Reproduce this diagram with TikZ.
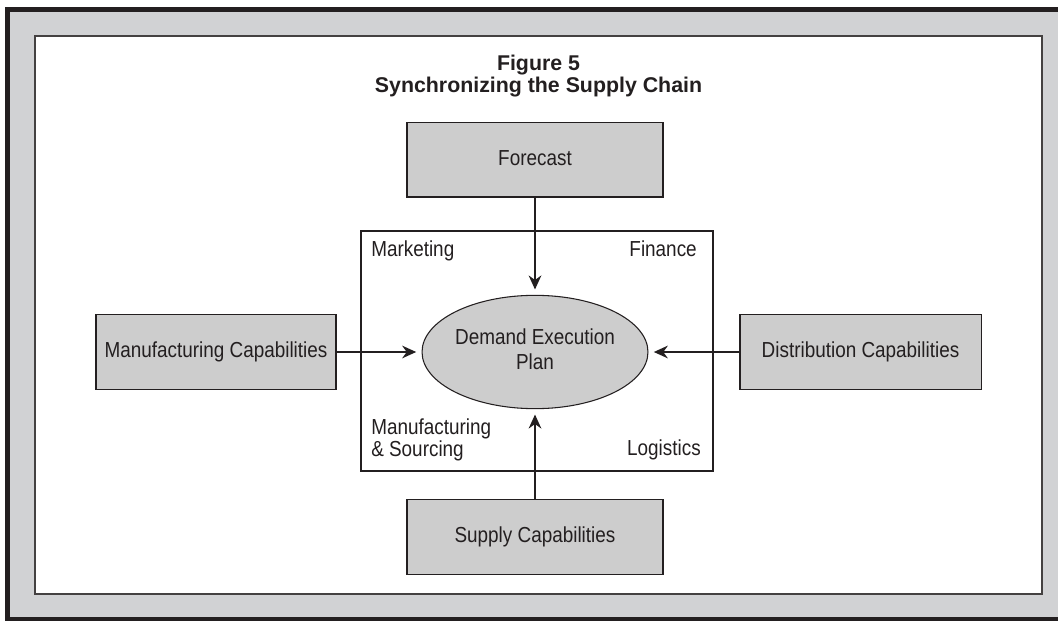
\documentclass[tikz,border=0pt]{standalone}
\usepackage{fontspec}
\setmainfont{Liberation Sans}
\newfontfamily\narrowfont[FakeStretch=0.87]{Liberation Sans}
\usetikzlibrary{arrows.meta, shapes.geometric}
\definecolor{framegray}{HTML}{D1D2D4}
\definecolor{boxgray}{HTML}{CDCDCD}
\definecolor{inkdark}{HTML}{231F20}

\begin{document}
\begin{tikzpicture}[x=0.75pt,y=-0.75pt,
			box/.style = {draw=inkdark,fill=boxgray,line width=1pt,minimum height=56pt,inner sep=0pt,text=inkdark,font=\narrowfont\fontsize{16.3}{19}\selectfont},
			plan/.style = {ellipse,draw=inkdark,fill=boxgray,line width=0.8pt,minimum width=147pt,minimum height=85pt,inner sep=0pt,text=inkdark,font=\narrowfont\fontsize{16.3}{19}\selectfont},
			area/.style = {inner sep=0pt,text=inkdark,font=\narrowfont\fontsize{16.3}{16}\selectfont},
			title/.style = {inner sep=0pt,text=inkdark,font=\bfseries\fontsize{16}{19}\selectfont},
			feed/.style = {-{Stealth[length=10.5pt,width=9.5pt]},line width=1.4pt,draw=inkdark,shorten >=4pt}]
		\useasboundingbox (0,0) rectangle (1058,621);
		\begin{scope}
			\clip (0,0) rectangle (1058,621);
			\draw [fill=framegray,draw=inkdark,line width=3.75pt] (7.5,9.5) rectangle (1075,619.5);
		\end{scope}
		\draw [fill=white,draw=inkdark!85,line width=1.5pt] (35,36) rectangle (1042,594);
		\node [title,anchor=base] (figno) at (538.5,70) {Figure 5};
		\node [title,anchor=base] (caption) at (538.5,92) {Synchronizing the Supply Chain};
		\node [draw=inkdark,line width=0.8pt,minimum width=264pt,minimum height=180pt] (team) at (537,351) {};
		\node [area,anchor=base west] (marketing) at (371,256) {Marketing};
		\node [area,anchor=base east] (finance) at (697,256) {Finance};
		\node [area,anchor=base west,align=left] (sourcing) at (371,456) {Manufacturing\\\& Sourcing};
		\node [area,anchor=base east] (logistics) at (701,455) {Logistics};
		\node [plan] (plan) at (535,352) {\raisebox{-6pt}{\begin{tabular}{@{}c@{}}Demand Execution\\Plan\end{tabular}}};
		\node [box,minimum width=192pt] (forecast) at (535,159.5) {\raisebox{2pt}{Forecast}};
		\node [box,minimum width=180pt] (manufacturing) at (216,352) {Manufacturing Capabilities};
		\node [box,minimum width=181pt] (distribution) at (860.5,352) {Distribution Capabilities};
		\node [box,minimum width=192pt] (supply) at (535,537) {Supply Capabilities};
		\draw [feed] (forecast.south) -- (plan.north);
		\draw [feed] (manufacturing.east) -- (plan.west);
		\draw [feed] (distribution.west) -- (plan.east);
		\draw [feed] (supply.north) -- (plan.south);
		\end{tikzpicture}
\end{document}
